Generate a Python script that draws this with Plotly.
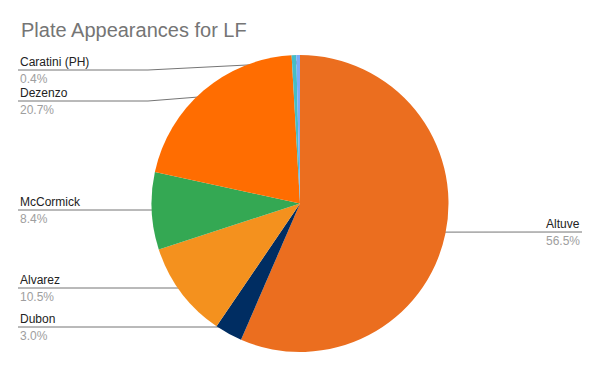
import math
import plotly.graph_objects as go

# Data
players = ["Altuve", "Dubon", "Alvarez", "McCormick", "Dezenzo", "Other", "Caratini (PH)"]
shares = [56.5, 3.0, 10.5, 8.4, 20.7, 0.5, 0.4]
colors = ["#EB6E1F", "#002D62", "#F4911E", "#34A853", "#FF6D01", "#46BDC6", "#7BAAF7"]
show_label = [True, True, True, True, True, False, True]
pct_text = ["56.5%", "3.0%", "10.5%", "8.4%", "20.7%", "", "0.4%"]

# Layout (pixels)
W, H = 600, 371
cx, cy, R = 300, 203.5, 148.5
label_side = ["right", "left", "left", "left", "left", None, "left"]
label_line_y = [232, 327, 288, 210, 101, None, 70]
left_x, left_bend = 18, 148
right_x = 582
FONT = "Liberation Sans, Arial, sans-serif"

fig = go.Figure()
fig.add_trace(go.Pie(
    labels=players, values=shares, sort=False, direction="clockwise", rotation=0,
    marker=dict(colors=colors, line=dict(width=0)), textinfo="none",
    hoverinfo="label+percent", showlegend=False,
    domain=dict(x=[(cx - R) / W, (cx + R) / W], y=[(H - cy - R) / H, (H - cy + R) / H]),
))

total = sum(shares)
cum = 0.0
annotations = []
for i, v in enumerate(shares):
    mid = (cum + v / 2) / total
    cum += v
    if not show_label[i]:
        continue
    ang = 2 * math.pi * mid
    r = 0.95 * R
    dx = cx + r * math.sin(ang)
    dy = cy - r * math.cos(ang)
    ly = label_line_y[i]
    if label_side[i] == "left":
        if abs(dy - ly) < 1.5:
            xs, ys = [left_x, dx], [ly, ly]
        else:
            xs, ys = [left_x, left_bend, dx], [ly, ly, dy]
        tx, anchor = left_x + 1, "left"
    else:
        xs, ys = [dx, right_x], [dy, ly]
        tx, anchor = right_x - 1, "right"
    fig.add_trace(go.Scatter(x=xs, y=ys, mode="lines", line=dict(color="#757575", width=1),
                             hoverinfo="skip", showlegend=False))
    fig.add_trace(go.Scatter(x=[dx], y=[dy], mode="markers",
                             marker=dict(color="#9E9E9E", size=5), hoverinfo="skip", showlegend=False))
    annotations.append(dict(x=tx, y=ly - 8, xref="x", yref="y", text=players[i], showarrow=False,
                            xanchor=anchor, yanchor="middle", borderpad=0,
                            font=dict(family=FONT, size=12, color="#222222")))
    annotations.append(dict(x=tx, y=ly + 8.5, xref="x", yref="y", text=pct_text[i], showarrow=False,
                            xanchor=anchor, yanchor="middle", borderpad=0,
                            font=dict(family=FONT, size=12, color="#9E9E9E")))

annotations.append(dict(x=19, y=30, xref="x", yref="y", text="Plate Appearances for LF",
                        showarrow=False, xanchor="left", yanchor="middle",
                        font=dict(family=FONT, size=20, color="#757575")))

fig.update_layout(
    width=W, height=H, margin=dict(l=0, r=0, t=0, b=0),
    paper_bgcolor="white", plot_bgcolor="white",
    xaxis=dict(range=[0, W], visible=False, fixedrange=True),
    yaxis=dict(range=[H, 0], visible=False, fixedrange=True),
    annotations=annotations,
)
fig.write_html("out.html", config={"displayModeBar": False},
               post_script="document.body.style.margin='0';")
